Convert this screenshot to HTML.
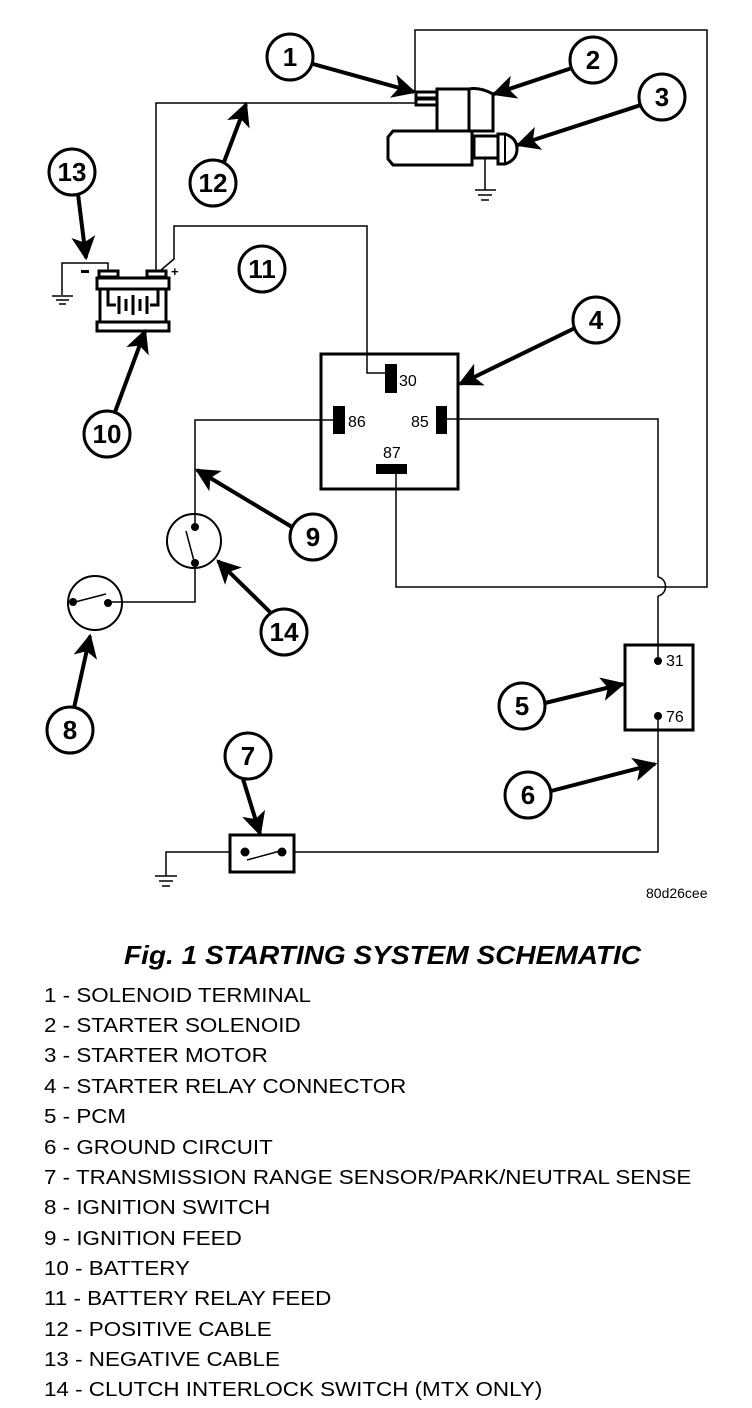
<!DOCTYPE html>
<html><head><meta charset="utf-8"><style>
html,body{margin:0;padding:0;background:#fff;}
svg{display:block;}
text{font-family:"Liberation Sans",Arial,sans-serif;fill:#000;}
</style></head><body>
<svg width="752" height="1408" viewBox="0 0 752 1408" xmlns="http://www.w3.org/2000/svg">
<defs>
<marker id="ah" viewBox="0 0 10 10" refX="9" refY="5" markerWidth="7" markerHeight="6" orient="auto" markerUnits="strokeWidth">
<path d="M0,0 L10,5 L0,10 L2.5,5 Z" fill="#000"/>
</marker>
</defs>
<g fill="none" stroke="#000" stroke-width="1.5">
<polyline points="415,92 415,30 707,30 707,587 396,587 396,474"/>
<polyline points="415,103 156,103 156,270"/>
<polyline points="161,270 174,259 174,226 367,226 367,373 386,373"/>
<polyline points="108,270 108,263 62,263 62,295"/>
<line x1="52" y1="296" x2="73" y2="296"/><line x1="56" y1="300" x2="69" y2="300"/><line x1="59" y1="304" x2="66" y2="304"/>
<polyline points="334,420 195,420 195,528"/>
<polyline points="195,563 195,602 108,602"/>
<polyline points="446,419 658,419 658,577"/>
<path d="M658,577 C668,579 668,594 658,596"/>
<polyline points="658,596 658,660"/>
<polyline points="658,717 658,852 294,852"/>
<polyline points="230,852 166,852 166,876"/>
<line x1="155" y1="876" x2="177" y2="876"/><line x1="159" y1="881" x2="173" y2="881"/><line x1="162" y1="886" x2="170" y2="886"/>
<line x1="485" y1="158" x2="485" y2="190"/>
<line x1="475" y1="190" x2="496" y2="190"/><line x1="478" y1="195" x2="492" y2="195"/><line x1="481" y1="200" x2="489" y2="200"/>
</g>
<g fill="#fff" stroke="#000" stroke-width="3">
<rect x="416" y="92" width="21" height="6"/><rect x="416" y="99" width="21" height="6"/>
<rect x="437" y="89" width="32" height="42"/>
<path d="M469,89 Q480,87 493,94 L493,131 L469,131 Z"/>
<path d="M393,131 L472,131 L472,165 L393,165 L388,159 L388,137 Z"/>
<rect x="474" y="136" width="24" height="22"/>
<path d="M498,134 L505,134 Q517,138 517,149 Q517,160 505,164 L498,164 Z"/>
</g>
<line x1="505" y1="135" x2="505" y2="163" stroke="#000" stroke-width="2"/>
<g fill="#fff" stroke="#000" stroke-width="3">
<rect x="99" y="271" width="19" height="6"/><rect x="147" y="271" width="19" height="6"/>
<rect x="97" y="278" width="72" height="11"/>
<rect x="100" y="289" width="66" height="33"/>
<rect x="97" y="322" width="72" height="9"/>
</g>
<polyline points="108,289 108,305 116,305" fill="none" stroke="#000" stroke-width="3"/>
<polyline points="158,289 158,305 150,305" fill="none" stroke="#000" stroke-width="3"/>
<g stroke="#000" stroke-width="3"><line x1="119" y1="296" x2="119" y2="314"/><line x1="126" y1="299" x2="126" y2="311"/><line x1="133" y1="295" x2="133" y2="315"/><line x1="140" y1="299" x2="140" y2="311"/><line x1="147" y1="296" x2="147" y2="314"/></g>
<rect x="81" y="270" width="8" height="3" fill="#000"/>
<text x="171" y="276" font-size="13" font-weight="bold">+</text>
<rect x="321" y="354" width="137" height="135" fill="none" stroke="#000" stroke-width="3"/>
<rect x="385" y="364" width="12" height="29" fill="#000"/>
<rect x="333" y="406" width="12" height="28" fill="#000"/>
<rect x="436" y="406" width="11" height="28" fill="#000"/>
<rect x="376" y="464" width="31" height="10" fill="#000"/>
<text x="399" y="386" font-size="16">30</text>
<text x="348" y="427" font-size="16">86</text>
<text x="411" y="427" font-size="16">85</text>
<text x="383" y="458" font-size="16">87</text>
<rect x="625" y="645" width="68" height="85" fill="none" stroke="#000" stroke-width="3"/>
<circle cx="658" cy="661" r="4"/><circle cx="658" cy="716" r="4"/>
<text x="666" y="666" font-size="16">31</text>
<text x="666" y="722" font-size="16">76</text>
<circle cx="194" cy="541" r="27" fill="none" stroke="#000" stroke-width="2"/>
<circle cx="195" cy="527" r="4"/><circle cx="195" cy="563" r="4"/>
<line x1="186" y1="531" x2="194" y2="561" stroke="#000" stroke-width="1.5"/>
<circle cx="95" cy="603" r="27" fill="none" stroke="#000" stroke-width="2"/>
<circle cx="73" cy="602" r="4"/><circle cx="108" cy="603" r="4"/>
<line x1="75" y1="602" x2="106" y2="594" stroke="#000" stroke-width="1.5"/>
<rect x="230" y="835" width="64" height="37" fill="none" stroke="#000" stroke-width="3"/>
<circle cx="245" cy="852" r="4.5"/><circle cx="282" cy="852" r="4.5"/>
<line x1="247" y1="860" x2="280" y2="851" stroke="#000" stroke-width="1.5"/>
<g stroke="#000" stroke-width="4" fill="none" marker-end="url(#ah)">
<line x1="313" y1="64" x2="414" y2="92"/>
<line x1="572" y1="68" x2="494" y2="94"/>
<line x1="641" y1="105" x2="518" y2="145"/>
<line x1="224" y1="162" x2="246" y2="104"/>
<line x1="78" y1="194" x2="86" y2="258"/>
<line x1="575" y1="328" x2="460" y2="384"/>
<line x1="115" y1="412" x2="145" y2="331"/>
<line x1="292" y1="527" x2="197" y2="470"/>
<line x1="270" y1="612" x2="218" y2="561"/>
<line x1="74" y1="708" x2="90" y2="636"/>
<line x1="545" y1="703" x2="623" y2="684"/>
<line x1="551" y1="791" x2="655" y2="764"/>
<line x1="243" y1="779" x2="260" y2="834"/>
</g>
<g fill="#fff" stroke="#000" stroke-width="3">
<circle cx="290" cy="57" r="23"/><circle cx="593" cy="60" r="23"/><circle cx="662" cy="97" r="23"/>
<circle cx="72" cy="172" r="23"/><circle cx="213" cy="183" r="23"/><circle cx="262" cy="269" r="23"/>
<circle cx="596" cy="320" r="23"/><circle cx="107" cy="434" r="23"/><circle cx="313" cy="537" r="23"/>
<circle cx="284" cy="632" r="23"/><circle cx="70" cy="730" r="23"/><circle cx="522" cy="706" r="23"/>
<circle cx="528" cy="795" r="23"/><circle cx="248" cy="756" r="23"/>
</g>
<g font-size="26" font-weight="bold" text-anchor="middle">
<text x="290" y="66">1</text><text x="593" y="69">2</text><text x="662" y="106">3</text>
<text x="72" y="181">13</text><text x="213" y="192">12</text><text x="262" y="278">11</text>
<text x="596" y="329">4</text><text x="107" y="443">10</text><text x="313" y="546">9</text>
<text x="284" y="641">14</text><text x="70" y="739">8</text><text x="522" y="715">5</text>
<text x="528" y="804">6</text><text x="248" y="765">7</text>
</g>
<text x="646" y="898" font-size="14">80d26cee</text>
<text x="124" y="964" font-size="26" font-weight="bold" font-style="italic" textLength="517" lengthAdjust="spacingAndGlyphs">Fig. 1 STARTING SYSTEM SCHEMATIC</text>
<g font-size="20" transform="translate(44,0) scale(1.12,1) translate(-44,0)">
<text x="44" y="1002">1 - SOLENOID TERMINAL</text>
<text x="44" y="1032">2 - STARTER SOLENOID</text>
<text x="44" y="1062">3 - STARTER MOTOR</text>
<text x="44" y="1093">4 - STARTER RELAY CONNECTOR</text>
<text x="44" y="1123">5 - PCM</text>
<text x="44" y="1154">6 - GROUND CIRCUIT</text>
<text x="44" y="1184" textLength="578" lengthAdjust="spacingAndGlyphs">7 - TRANSMISSION RANGE SENSOR/PARK/NEUTRAL SENSE</text>
<text x="44" y="1214">8 - IGNITION SWITCH</text>
<text x="44" y="1245">9 - IGNITION FEED</text>
<text x="44" y="1275">10 - BATTERY</text>
<text x="44" y="1305">11 - BATTERY RELAY FEED</text>
<text x="44" y="1336">12 - POSITIVE CABLE</text>
<text x="44" y="1366">13 - NEGATIVE CABLE</text>
<text x="44" y="1396">14 - CLUTCH INTERLOCK SWITCH (MTX ONLY)</text>
</g>
</svg>
</body></html>
